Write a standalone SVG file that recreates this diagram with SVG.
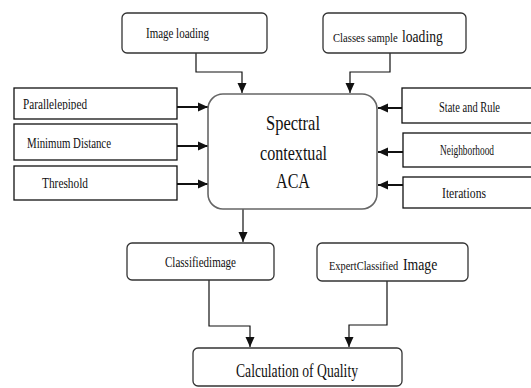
<svg xmlns="http://www.w3.org/2000/svg" width="531" height="388" viewBox="0 0 531 388">
<style>
text{fill:#111}
.rb{fill:#fff;stroke:#333;stroke-width:1.3}
.sb{fill:#fff;stroke:#111;stroke-width:1.3}
.mb{fill:#fff;stroke:#666;stroke-width:1.6}
.ln{fill:none;stroke:#111;stroke-width:1.2}
.th{fill:none;stroke:#111;stroke-width:2}
</style>
<defs>
<marker id="ah" viewBox="0 0 10 10" refX="10" refY="5" markerWidth="10" markerHeight="10" markerUnits="userSpaceOnUse" orient="auto">
<path d="M0,0.5 L10,5 L0,9.5 z" fill="#111"/>
</marker>
<clipPath id="cp"><rect x="14" y="88" width="165" height="22"/></clipPath>
</defs>
<rect width="531" height="388" fill="#fff"/>
<g id="connectors">
<path class="ln" d="M196,53 V72 H242 V93" marker-end="url(#ah)"/>
<path class="ln" d="M390,53 V72 H350 V93" marker-end="url(#ah)"/>
<path class="th" d="M177,107 H208" marker-end="url(#ah)"/>
<path class="th" d="M177,146 H208" marker-end="url(#ah)"/>
<path class="th" d="M177,184 H208" marker-end="url(#ah)"/>
<path class="th" d="M402,108 H378" marker-end="url(#ah)"/>
<path class="th" d="M403,152 H378" marker-end="url(#ah)"/>
<path class="th" d="M403,185 H378" marker-end="url(#ah)"/>
<path class="ln" d="M243,209 V242" marker-end="url(#ah)"/>
<path class="ln" d="M209,280 V326 H250 V347" marker-end="url(#ah)"/>
<path class="ln" d="M387,281 V325 H349 V347" marker-end="url(#ah)"/>
</g>
<g font-family="'Liberation Serif', 'Times New Roman', 'DejaVu Serif', serif">
<g id="image-loading">
<rect class="rb" x="122" y="13" width="145" height="40" rx="5"/>
<text font-size="14" x="146" y="38" textLength="63" lengthAdjust="spacingAndGlyphs">Image loading</text>
</g>
<g id="classes-sample-loading">
<rect class="rb" x="323" y="13" width="143" height="40" rx="5"/>
<text font-size="13" transform="translate(333,42) scale(0.82,1)">Classes sample</text>
<text font-size="16" transform="translate(402,42) scale(0.85,1)">loading</text>
</g>
<g id="parallelepiped">
<rect class="sb" x="14" y="88" width="163" height="31"/>
<text font-size="14" x="23" y="109" textLength="64" lengthAdjust="spacingAndGlyphs" clip-path="url(#cp)">Parallelepiped</text>
</g>
<g id="minimum-distance">
<rect class="sb" x="14" y="124" width="163" height="36"/>
<text font-size="14" x="27" y="148" textLength="84" lengthAdjust="spacingAndGlyphs">Minimum Distance</text>
</g>
<g id="threshold">
<rect class="sb" x="14" y="166" width="163" height="34"/>
<text font-size="14" x="42" y="188" textLength="46" lengthAdjust="spacingAndGlyphs">Threshold</text>
</g>
<g id="spectral-contextual-aca">
<rect class="mb" x="208" y="94" width="169" height="115" rx="15"/>
<text font-size="21" x="266" y="130" textLength="54" lengthAdjust="spacingAndGlyphs">Spectral</text>
<text font-size="21" x="260" y="160" textLength="67" lengthAdjust="spacingAndGlyphs">contextual</text>
<text font-size="21" x="276" y="188" textLength="34" lengthAdjust="spacingAndGlyphs">ACA</text>
</g>
<g id="state-and-rule">
<rect class="sb" x="402" y="88" width="134" height="35"/>
<text font-size="14" x="439" y="112" textLength="61" lengthAdjust="spacingAndGlyphs">State and Rule</text>
</g>
<g id="neighborhood">
<rect class="sb" x="403" y="133" width="133" height="34"/>
<text font-size="14" x="440" y="155" textLength="54" lengthAdjust="spacingAndGlyphs">Neighborhood</text>
</g>
<g id="iterations">
<rect class="sb" x="403" y="177" width="133" height="31"/>
<text font-size="14" x="442" y="198" textLength="44" lengthAdjust="spacingAndGlyphs">Iterations</text>
</g>
<g id="classified-image">
<rect class="rb" x="127" y="243" width="147" height="37" rx="5"/>
<text font-size="14" x="165" y="267" textLength="71" lengthAdjust="spacingAndGlyphs">Classifiedimage</text>
</g>
<g id="expert-classified-image">
<rect class="rb" x="317" y="243" width="151" height="38" rx="5"/>
<text font-size="13" transform="translate(329,270) scale(0.8,1)">ExpertClassified</text>
<text font-size="16" transform="translate(403,270) scale(0.86,1)">Image</text>
</g>
<g id="calculation-of-quality">
<rect class="rb" x="193" y="348" width="209" height="38" rx="5"/>
<text font-size="19" x="236" y="377" textLength="122" lengthAdjust="spacingAndGlyphs">Calculation of Quality</text>
</g>
</g>
</svg>
